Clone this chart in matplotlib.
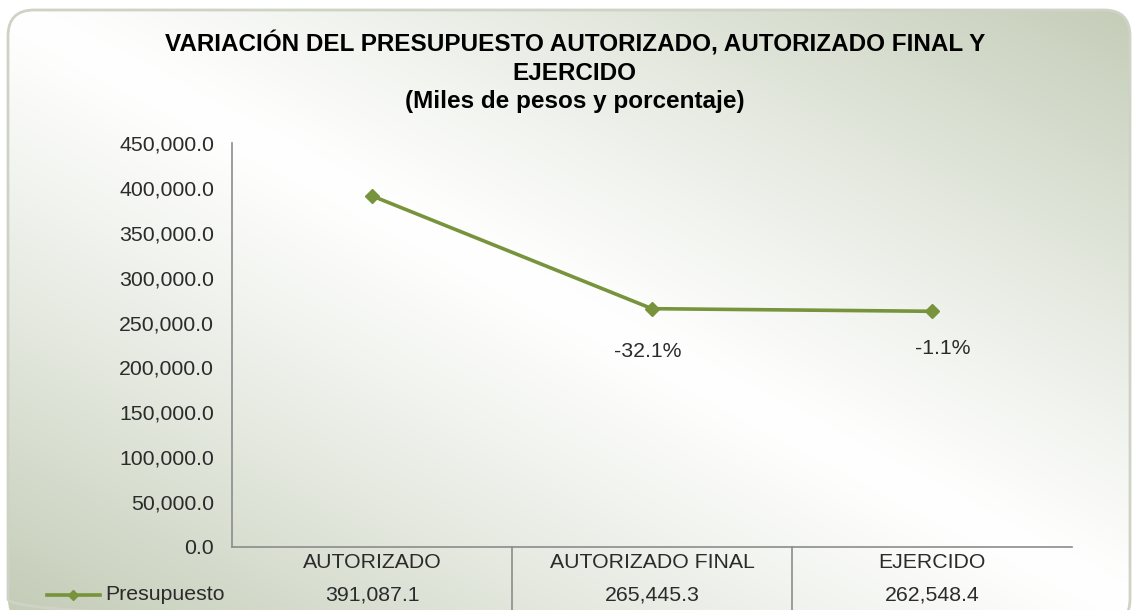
import numpy as np
import matplotlib
matplotlib.use("Agg")
import matplotlib.pyplot as plt
from matplotlib.patches import FancyBboxPatch
from matplotlib.ticker import FuncFormatter

plt.rcParams['font.family'] = ['Liberation Sans', 'DejaVu Sans']

categories = ['AUTORIZADO', 'AUTORIZADO FINAL', 'EJERCIDO']
presupuesto = [391087.1, 265445.3, 262548.4]
variacion = ['', '-32.1%', '-1.1%']
series_name = 'Presupuesto'
yticks = [0, 50000, 100000, 150000, 200000, 250000, 300000, 350000, 400000, 450000]

W, H = 1136, 610
fs = 15.3
fig = plt.figure(figsize=(W / 100, H / 100), dpi=100)
fig.patch.set_facecolor('white')

# background: rounded box with gradient (light along the diagonal, green-grey at two corners)
bg = fig.add_axes([0, 0, 1, 1], zorder=-10)
bg.set_xlim(0, W)
bg.set_ylim(H, 0)
bg.axis('off')
yy, xx = np.mgrid[0:H, 0:W]
x0, y0, x1, y1 = 8, 10, 1130, 605
dx, dy = x1 - x0, y1 - y0
L = np.hypot(dx, dy)
d = np.abs(((xx - x0) * (-dy) + (yy - y0) * dx) / L)
t = np.clip(d / (dx * dy / L), 0, 1) ** 1.15
c_light = np.array([1.0, 1.0, 1.0])
c_dark = np.array([0xc4, 0xcd, 0xb8]) / 255
img = c_light + (c_dark - c_light) * t[..., None]
box = FancyBboxPatch((x0, y0), dx, dy + 20, boxstyle='round,pad=0,rounding_size=26',
                     facecolor='none', edgecolor='#cfd3c6', linewidth=2)
bg.add_patch(box)
im = bg.imshow(img, extent=(0, W, H, 0), interpolation='bilinear')
im.set_clip_path(box)

# main axes
ax = fig.add_axes([232 / W, (H - 547) / H, 840 / W, (547 - 143) / H])
ax.patch.set_alpha(0)
x = np.arange(len(categories))
ax.plot(x, presupuesto, color='#77933c', linewidth=2.6, marker='D', markersize=7,
        solid_joinstyle='round')
ax.set_xlim(-0.5, len(categories) - 0.5)
ax.set_ylim(yticks[0], yticks[-1])
ax.set_yticks(yticks)
ax.yaxis.set_major_formatter(FuncFormatter(lambda v, p: '{:,.1f}'.format(v)))
ax.tick_params(axis='y', length=0, pad=13, labelsize=fs, labelcolor='#2b2b2b')
ax.set_xticks([])
for s in ['top', 'right']:
    ax.spines[s].set_visible(False)
for s in ['left', 'bottom']:
    ax.spines[s].set_color('#8c8c8c')
    ax.spines[s].set_linewidth(1.2)

# percentage labels
offsets = [(0, 0), (-3, -31), (8, -27)]
for i, lab in enumerate(variacion):
    if lab:
        ax.annotate(lab, (x[i], presupuesto[i]), xytext=offsets[i], textcoords='offset points',
                    ha='center', va='center', fontsize=fs, color='#2b2b2b')

# data table under the axis
trans = ax.get_xaxis_transform()
ax_h = 547 - 143
row1 = (547 - 563) / ax_h
row2 = (547 - 595) / ax_h
for i, (cat, val) in enumerate(zip(categories, presupuesto)):
    ax.text(x[i], row1, cat, transform=trans, ha='center', va='center',
            fontsize=fs, color='#2b2b2b')
    ax.text(x[i], row2, '{:,.1f}'.format(val), transform=trans, ha='center', va='center',
            fontsize=fs, color='#2b2b2b')
for xs in x[:-1] + 0.5:
    ax.plot([xs, xs], [0, (547 - 610) / ax_h], transform=trans, color='#8c8c8c',
            linewidth=1.2, clip_on=False)

# legend key of the table
bg.plot([47, 100], [595, 595], color='#77933c', linewidth=2.6)
bg.plot([73], [595], color='#77933c', marker='D', markersize=5)
bg.text(105, 595, series_name, ha='left', va='center', fontsize=fs, color='#2b2b2b')

fig.text(0.506, 1 - 72 / H,
         'VARIACIÓN DEL PRESUPUESTO AUTORIZADO, AUTORIZADO FINAL Y\nEJERCIDO\n(Miles de pesos y porcentaje)',
         ha='center', va='center', fontsize=17.5, fontweight='bold', linespacing=1.3,
         color='black')

fig.savefig('out.png', dpi=100)
